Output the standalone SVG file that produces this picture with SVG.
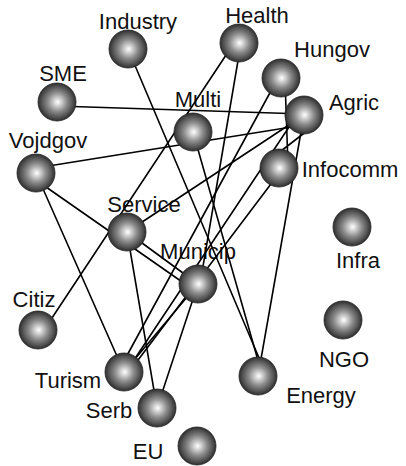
<svg xmlns="http://www.w3.org/2000/svg" width="406" height="466" viewBox="0 0 406 466">
<defs>
<radialGradient id="ball" cx="0.5" cy="0.5" r="0.5" fx="0.52" fy="0.5">
<stop offset="0" stop-color="#ffffff"/>
<stop offset="0.18" stop-color="#d6d6d6"/>
<stop offset="0.5" stop-color="#8c8c8c"/>
<stop offset="0.85" stop-color="#4c4c4c"/>
<stop offset="1" stop-color="#2e2e2e"/>
</radialGradient>
</defs>
<style>
.lbl{font-family:"Liberation Sans",Arial,sans-serif;font-size:22px;fill:#111;text-anchor:middle}
.edge line{stroke:#000;stroke-width:1.6;stroke-linecap:round}
.node circle{fill:url(#ball);stroke:#222;stroke-width:0.8}
</style>
<rect width="406" height="466" fill="#fff"/>
<g id="labels">
<text class="lbl" x="138" y="29">Industry</text>
<text class="lbl" x="257" y="23">Health</text>
<text class="lbl" x="332" y="57">Hungov</text>
<text class="lbl" x="63" y="81">SME</text>
<text class="lbl" x="198" y="107">Multi</text>
<text class="lbl" x="354" y="110">Agric</text>
<text class="lbl" x="48" y="148">Vojdgov</text>
<text class="lbl" x="350" y="177">Infocomm</text>
<text class="lbl" x="144" y="212">Service</text>
<text class="lbl" x="358" y="268">Infra</text>
<text class="lbl" x="198" y="259">Municip</text>
<text class="lbl" x="34" y="307">Citiz</text>
<text class="lbl" x="344" y="367">NGO</text>
<text class="lbl" x="68" y="388">Turism</text>
<text class="lbl" x="321" y="403">Energy</text>
<text class="lbl" x="109" y="418">Serb</text>
<text class="lbl" x="148" y="459">EU</text>
</g>
<g id="connectors" class="edge">
<line x1="57" y1="106" x2="304" y2="114"/>
<line x1="36" y1="168" x2="304" y2="125"/>
<line x1="304" y1="115" x2="127" y2="232"/>
<line x1="297" y1="115" x2="126" y2="372"/>
<line x1="304" y1="115" x2="258" y2="376"/>
<line x1="312" y1="127" x2="272" y2="158"/>
<line x1="285" y1="80" x2="288" y2="165"/>
<line x1="278" y1="78" x2="118" y2="372"/>
<line x1="283" y1="168" x2="129" y2="372"/>
<line x1="128" y1="49" x2="262" y2="365"/>
<line x1="193" y1="132" x2="259" y2="364"/>
<line x1="234" y1="43" x2="44" y2="330"/>
<line x1="241" y1="43" x2="200" y2="284"/>
<line x1="36" y1="173" x2="124" y2="372"/>
<line x1="36" y1="180" x2="198" y2="293"/>
<line x1="127" y1="232" x2="198" y2="284"/>
<line x1="127" y1="232" x2="157" y2="408"/>
<line x1="198" y1="284" x2="157" y2="408"/>
<line x1="198" y1="284" x2="124" y2="372"/>
</g>
<g id="Industry" class="node"><circle cx="128" cy="49" r="19"/></g>
<g id="Health" class="node"><circle cx="239" cy="43" r="19"/></g>
<g id="Hungov" class="node"><circle cx="281" cy="78" r="19"/></g>
<g id="SME" class="node"><circle cx="57" cy="102" r="19"/></g>
<g id="Agric" class="node"><circle cx="304" cy="115" r="19"/></g>
<g id="Multi" class="node"><circle cx="193" cy="132" r="19"/></g>
<g id="Vojdgov" class="node"><circle cx="36" cy="173" r="19"/></g>
<g id="Infocomm" class="node"><circle cx="279" cy="168" r="19"/></g>
<g id="Service" class="node"><circle cx="127" cy="232" r="19"/></g>
<g id="Infra" class="node"><circle cx="352" cy="227" r="19"/></g>
<g id="Municip" class="node"><circle cx="198" cy="284" r="19"/></g>
<g id="Citiz" class="node"><circle cx="38" cy="330" r="19"/></g>
<g id="NGO" class="node"><circle cx="343" cy="320" r="19"/></g>
<g id="Turism" class="node"><circle cx="124" cy="372" r="19"/></g>
<g id="Energy" class="node"><circle cx="258" cy="376" r="19"/></g>
<g id="Serb" class="node"><circle cx="157" cy="408" r="19"/></g>
<g id="EU" class="node"><circle cx="197" cy="446" r="19"/></g>
</svg>
